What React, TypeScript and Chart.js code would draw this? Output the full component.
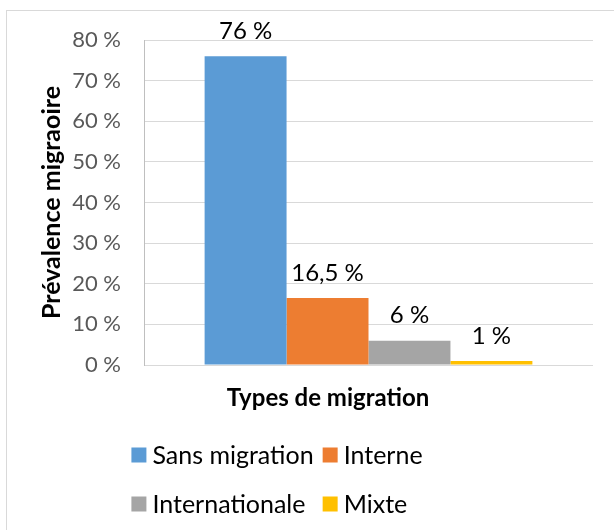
import React, { useEffect, useRef } from 'react';
import { Chart, registerables } from 'chart.js';

Chart.register(...registerables);

// ---- data ----
const categories = ['Types de migration'];
const seriesLabels = ['Sans migration', 'Interne', 'Internationale', 'Mixte'];
const seriesValues = [76, 16.5, 6, 1];
const seriesColors = ['#5B9BD5', '#ED7D31', '#A5A5A5', '#FFC000'];
const yMin = 0;
const yMax = 80;
const yStep = 10;
const yTitle = 'Prévalence migraoire';
const xTitle = 'Types de migration';

const FONT = 'Lato, "Open Sans", sans-serif';

const fmt = (v: number) => String(v).replace('.', ',') + ' %';

const dataLabelPlugin = {
  id: 'dataLabels',
  afterDatasetsDraw(chart: any) {
    const ctx = chart.ctx;
    ctx.save();
    ctx.font = `24px ${FONT}`;
    ctx.fillStyle = '#000000';
    ctx.textAlign = 'center';
    ctx.textBaseline = 'middle';
    chart.data.datasets.forEach((ds: any, i: number) => {
      const meta = chart.getDatasetMeta(i);
      meta.data.forEach((bar: any, j: number) => {
        ctx.fillText(fmt(ds.data[j]), bar.x, bar.y - 25);
      });
    });
    ctx.restore();
  },
};

const titleLegendPlugin = {
  id: 'titleLegend',
  afterDraw(chart: any) {
    const ctx = chart.ctx;
    const area = chart.chartArea;
    ctx.save();
    // x axis title
    ctx.font = `bold 24px ${FONT}`;
    ctx.fillStyle = '#000000';
    ctx.textAlign = 'center';
    ctx.textBaseline = 'middle';
    ctx.fillText(xTitle, area.left + 184, area.bottom + 33);

    // legend: 2 columns x 2 rows
    ctx.font = `25px ${FONT}`;
    const box = 15;
    const gapBox = 6;
    const gapCol = 9;
    const ds = chart.data.datasets;
    const col1 = [0, 2].map((k) => ctx.measureText(ds[k].label).width);
    const col2 = [1, 3].map((k) => ctx.measureText(ds[k].label).width);
    const w1 = box + gapBox + Math.max(...col1);
    const w2 = box + gapBox + Math.max(...col2);
    const total = w1 + gapCol + w2;
    const startX = area.left + 133 - total / 2;
    const rowsY = [area.bottom + 90, area.bottom + 139];
    ctx.textAlign = 'left';
    ds.forEach((d: any, k: number) => {
      const row = Math.floor(k / 2);
      const col = k % 2;
      const x = col === 0 ? startX : startX + w1 + gapCol;
      const y = rowsY[row];
      ctx.fillStyle = d.backgroundColor;
      ctx.fillRect(x, y - box / 2, box, box);
      ctx.fillStyle = '#000000';
      ctx.fillText(d.label, x + box + gapBox, y + 1);
    });
    ctx.restore();
  },
};

export default function App() {
  const canvasRef = useRef<HTMLCanvasElement | null>(null);

  useEffect(() => {
    if (!canvasRef.current) return;
    const chart = new Chart(canvasRef.current, {
      type: 'bar',
      data: {
        labels: categories,
        datasets: seriesLabels.map((label, i) => ({
          label,
          data: [seriesValues[i]],
          backgroundColor: seriesColors[i],
          borderWidth: 0,
          barPercentage: 1,
          categoryPercentage: 0.73,
        })),
      },
      options: {
        animation: false,
        responsive: false,
        maintainAspectRatio: false,
        layout: { padding: { left: 0, right: 21, top: 40, bottom: 165 } },
        plugins: {
          legend: { display: false },
          tooltip: { enabled: false },
          title: { display: false },
        },
        scales: {
          x: {
            display: false,
          },
          y: {
            min: yMin,
            max: yMax,
            afterFit: (scale: any) => {
              scale.width = 144;
            },
            ticks: {
              stepSize: yStep,
              padding: 23,
              color: '#595959',
              font: { family: FONT, size: 22 },
              callback: (v: any) => `${v} %`,
            },
            grid: {
              color: '#D9D9D9',
              lineWidth: 1,
              drawTicks: false,
            },
            border: { display: true, color: '#BFBFBF' },
            title: {
              display: true,
              text: yTitle,
              color: '#000000',
              font: { family: FONT, size: 25, weight: 'bold' },
              padding: { top: 37, bottom: 0 },
            },
          },
        },
      },
      plugins: [dataLabelPlugin, titleLegendPlugin],
    });
    return () => chart.destroy();
  }, []);

  return (
    <div style={{ position: 'fixed', left: 0, top: 0, width: 614, height: 530, background: '#ffffff', overflow: 'hidden' }}>
      <div
        style={{
          position: 'absolute',
          left: 6,
          top: 10,
          width: 640,
          height: 560,
          border: '1px solid #D9D9D9',
          boxSizing: 'border-box',
        }}
      />
      <canvas ref={canvasRef} width={614} height={530} style={{ position: 'absolute', left: 0, top: 0 }} />
    </div>
  );
}
